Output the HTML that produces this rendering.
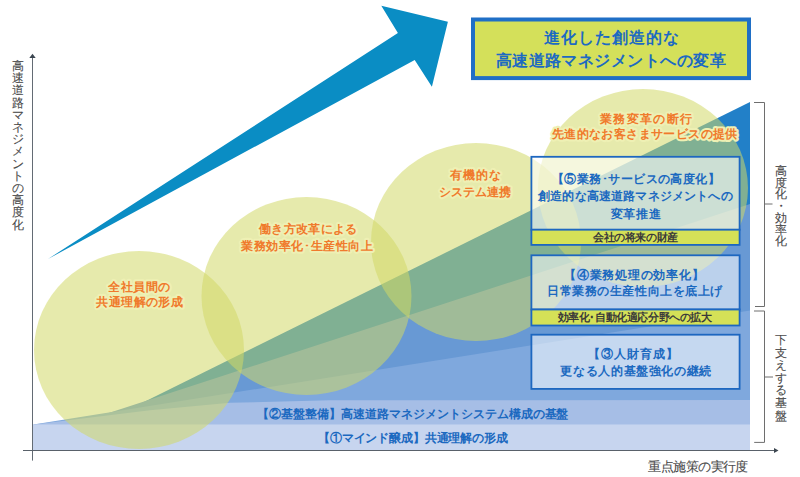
<!DOCTYPE html>
<html><head><meta charset="utf-8">
<style>
html,body{margin:0;padding:0;background:#fff;width:800px;height:477px;overflow:hidden}
svg{display:block}
text{font-family:"Liberation Sans",sans-serif}
.ti{fill:#1d6ac2;font-weight:bold}
.or{fill:#f07a2c;font-weight:bold}
.oh{fill:#eef0b4;font-weight:bold;stroke:#eef0b4;stroke-width:4.2px;stroke-linejoin:round}
.bl{fill:#1b69c0;font-weight:bold}
.dk{fill:#3a3a3a;font-weight:bold}
.gy{fill:#4a4a4a;stroke:#4a4a4a;stroke-width:0.1px}
</style></head>
<body>
<svg width="800" height="477" viewBox="0 0 800 477">
<!-- arrow -->
<polygon points="48,259 397.9,33 381.3,5.7 447.9,21.7 431.9,86.8 414.7,60" fill="#0a8dc4"/>

<!-- wedge layers -->
<polygon points="47,450 750,102 750,450" fill="#2280c8"/>
<polygon points="33.5,437.6 750,204 750,450 33.5,450" fill="#6899d4"/>
<polygon points="33.5,424.5 750,310.5 750,450 33.5,450" fill="#7fa8dd"/>
<polygon points="33.5,424.5 150,410.3 230,402.8 330,400.3 750,400 750,450 33.5,450" fill="#a6bee6"/>
<rect x="33" y="424.5" width="717" height="25.5" fill="#c7d5ef"/>

<!-- circles -->
<g fill="#d0d866" fill-opacity="0.54">
<ellipse cx="139" cy="350" rx="105" ry="99"/>
<ellipse cx="306.5" cy="296" rx="105" ry="99"/>
<ellipse cx="476" cy="242" rx="105" ry="99"/>
<ellipse cx="643" cy="188" rx="105" ry="99"/>
</g>

<!-- axes -->
<line x1="32.5" y1="57" x2="32.5" y2="460.6" stroke="#636b74" stroke-width="1"/>
<polygon points="29.3,58 35.7,58 32.5,53.8" fill="#3c4650"/>
<line x1="23" y1="450.5" x2="775" y2="450.5" stroke="#59616a" stroke-width="1.1"/>
<polygon points="774,448 774,453 778.5,450.5" fill="#3c4650"/>

<!-- boxes -->
<g stroke="#1d67c0" stroke-width="1.8">
<rect x="531.4" y="156.8" width="208.2" height="73" fill="#fff" fill-opacity="0.6"/>
<rect x="531.4" y="229.7" width="208.2" height="15.2" fill="#d5e157"/>
<rect x="531.4" y="255.3" width="208.2" height="54.2" fill="#fff" fill-opacity="0.55"/>
<rect x="531.4" y="309.5" width="208.2" height="16" fill="#d5e157"/>
<rect x="531.4" y="334.7" width="208.2" height="54.2" fill="#fff" fill-opacity="0.55"/>
</g>

<!-- title box -->
<rect x="473" y="19.5" width="276" height="58.6" fill="#d4e05a" stroke="#1f6fc6" stroke-width="4"/>
<!-- brackets -->
<g stroke="#6e6e6e" stroke-width="1" fill="none">
<polyline points="754,102.5 764.5,102.5 764.5,306.5 755,306.5"/>
<line x1="764.5" y1="204" x2="772.5" y2="204"/>
<polyline points="754,311 764.5,311 764.5,442.4 754.2,442.4"/>
<line x1="764.5" y1="377" x2="773" y2="377"/>
</g>

<text class="ti" x="544.00" y="43.15" style="font-size:16.20px" textLength="135.31" lengthAdjust="spacing">進化した創造的な</text>
<text class="ti" x="495.60" y="66.25" style="font-size:16.20px" textLength="230.03" lengthAdjust="spacing">高速道路マネジメントへの変革</text>
<text class="oh" x="108.00" y="290.95" style="font-size:12.30px" textLength="62.12" lengthAdjust="spacing">全社員間の</text>
<text class="or" x="108.00" y="290.95" style="font-size:12.30px" textLength="62.12" lengthAdjust="spacing">全社員間の</text>
<text class="oh" x="96.20" y="305.75" style="font-size:12.30px" textLength="86.68" lengthAdjust="spacing">共通理解の形成</text>
<text class="or" x="96.20" y="305.75" style="font-size:12.30px" textLength="86.68" lengthAdjust="spacing">共通理解の形成</text>
<text class="oh" x="259.00" y="233.00" style="font-size:12.30px" textLength="98.40" lengthAdjust="spacing">働き方改革による</text>
<text class="or" x="259.00" y="233.00" style="font-size:12.30px" textLength="98.40" lengthAdjust="spacing">働き方改革による</text>
<text class="oh" x="241.00" y="249.50" style="font-size:12.30px" textLength="132.00" lengthAdjust="spacing">業務効率化･生産性向上</text>
<text class="or" x="241.00" y="249.50" style="font-size:12.30px" textLength="132.00" lengthAdjust="spacing">業務効率化･生産性向上</text>
<text class="oh" x="450.20" y="179.45" style="font-size:12.30px" textLength="50.53" lengthAdjust="spacing">有機的な</text>
<text class="or" x="450.20" y="179.45" style="font-size:12.30px" textLength="50.53" lengthAdjust="spacing">有機的な</text>
<text class="oh" x="439.20" y="195.75" style="font-size:12.30px" textLength="72.00" lengthAdjust="spacing">システム連携</text>
<text class="or" x="439.20" y="195.75" style="font-size:12.30px" textLength="72.00" lengthAdjust="spacing">システム連携</text>
<text class="oh" x="599.80" y="122.95" style="font-size:12.30px" textLength="92.52" lengthAdjust="spacing">業務変革の断行</text>
<text class="or" x="599.80" y="122.95" style="font-size:12.30px" textLength="92.52" lengthAdjust="spacing">業務変革の断行</text>
<text class="oh" x="551.80" y="137.90" style="font-size:12.30px" textLength="185.57" lengthAdjust="spacing">先進的なお客さまサービスの提供</text>
<text class="or" x="551.80" y="137.90" style="font-size:12.30px" textLength="185.57" lengthAdjust="spacing">先進的なお客さまサービスの提供</text>
<text class="bl" x="552.00" y="182.85" style="font-size:12.30px" textLength="167.78" lengthAdjust="spacing">【⑤業務･サービスの高度化】</text>
<text class="bl" x="538.00" y="200.20" style="font-size:12.30px" textLength="194.67" lengthAdjust="spacing">創造的な高速道路マネジメントへの</text>
<text class="bl" x="610.60" y="218.15" style="font-size:12.30px" textLength="50.53" lengthAdjust="spacing">変革推進</text>
<text class="dk" x="593.00" y="240.90" style="font-size:10.80px" textLength="85.26" lengthAdjust="spacing">会社の将来の財産</text>
<text class="bl" x="564.00" y="278.65" style="font-size:12.30px" textLength="139.70" lengthAdjust="spacing">【④業務処理の効率化】</text>
<text class="bl" x="547.00" y="294.90" style="font-size:12.30px" textLength="175.43" lengthAdjust="spacing">日常業務の生産性向上を底上げ</text>
<text class="dk" x="557.60" y="321.25" style="font-size:10.80px" textLength="154.50" lengthAdjust="spacing">効率化･自動化適応分野への拡大</text>
<text class="bl" x="588.00" y="357.75" style="font-size:12.30px" textLength="89.60" lengthAdjust="spacing">【③人財育成】</text>
<text class="bl" x="560.40" y="374.50" style="font-size:12.30px" textLength="150.87" lengthAdjust="spacing">更なる人的基盤強化の継続</text>
<text class="bl" x="257.00" y="418.45" style="font-size:12.20px" textLength="311.48" lengthAdjust="spacing">【②基盤整備】高速道路マネジメントシステム構成の基盤</text>
<text class="bl" x="318.00" y="442.00" style="font-size:12.20px" textLength="189.87" lengthAdjust="spacing">【①マインド醸成】共通理解の形成</text>
<text class="gy" x="648.40" y="470.85" style="font-size:12.50px" textLength="100.00" lengthAdjust="spacing">重点施策の実行度</text>
<text class="gy" style="font-size:12.2px" text-anchor="middle"><tspan x="17.6" y="70.00">高</tspan><tspan x="17.6" y="82.20">速</tspan><tspan x="17.6" y="94.40">道</tspan><tspan x="17.6" y="106.60">路</tspan><tspan x="17.6" y="118.80">マ</tspan><tspan x="17.6" y="131.00">ネ</tspan><tspan x="17.6" y="143.20">ジ</tspan><tspan x="17.6" y="155.40">メ</tspan><tspan x="17.6" y="167.60">ン</tspan><tspan x="17.6" y="179.80">ト</tspan><tspan x="17.6" y="192.00">の</tspan><tspan x="17.6" y="204.20">高</tspan><tspan x="17.6" y="216.40">度</tspan><tspan x="17.6" y="228.60">化</tspan></text>
<text class="gy" style="font-size:11.5px" text-anchor="middle"><tspan x="781" y="175.00">高</tspan><tspan x="781" y="186.70">度</tspan><tspan x="781" y="198.40">化</tspan><tspan x="781" y="210.10">・</tspan><tspan x="781" y="221.80">効</tspan><tspan x="781" y="233.50">率</tspan><tspan x="781" y="245.20">化</tspan></text>
<text class="gy" style="font-size:12px" text-anchor="middle"><tspan x="781" y="344.00">下</tspan><tspan x="781" y="356.60">支</tspan><tspan x="781" y="369.20">え</tspan><tspan x="781" y="381.80">す</tspan><tspan x="781" y="394.40">る</tspan><tspan x="781" y="407.00">基</tspan><tspan x="781" y="419.60">盤</tspan></text>
</svg>
</body></html>
